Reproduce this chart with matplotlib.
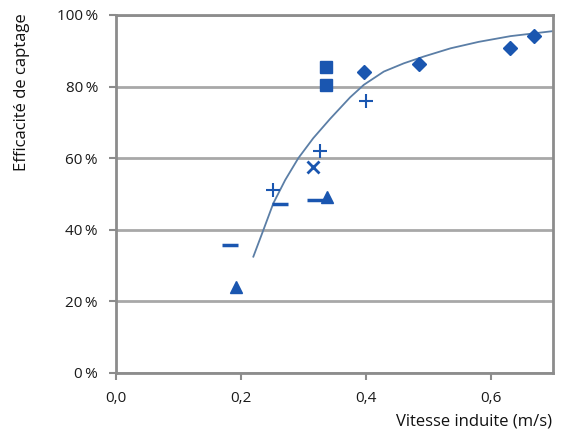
import matplotlib.pyplot as plt
from matplotlib.ticker import FuncFormatter

# measured points, grouped by marker type
diamond_x = [0.397, 0.486, 0.631, 0.670]
diamond_y = [0.840, 0.864, 0.907, 0.941]
square_x = [0.336, 0.336]
square_y = [0.856, 0.804]
plus_x = [0.251, 0.326, 0.401]
plus_y = [0.511, 0.621, 0.760]
minus_x = [0.183, 0.262, 0.319]
minus_y = [0.357, 0.471, 0.483]
triangle_x = [0.192, 0.338]
triangle_y = [0.241, 0.492]
cross_x = [0.316]
cross_y = [0.576]

# trend curve
curve_x = [0.220, 0.236, 0.252, 0.271, 0.292, 0.316, 0.343, 0.375, 0.397,
           0.429, 0.461, 0.493, 0.536, 0.581, 0.632, 0.700]
curve_y = [0.325, 0.399, 0.474, 0.539, 0.600, 0.656, 0.710, 0.770, 0.805,
           0.842, 0.865, 0.884, 0.907, 0.925, 0.941, 0.955]

x_ticks = [0.0, 0.2, 0.4, 0.6]
y_ticks = [0.0, 0.2, 0.4, 0.6, 0.8, 1.0]

blue = "#1a56b0"
plt.rcParams["font.family"] = ["Open Sans", "DejaVu Sans"]

fig = plt.figure(figsize=(5.64, 4.30), dpi=100)
ax = fig.add_axes([116 / 564, 1 - 373 / 430, 437 / 564, 358 / 430])

ax.plot(curve_x, curve_y, color="#5b7ea6", lw=1.3, zorder=2)
ax.plot(diamond_x, diamond_y, "D", color=blue, ms=7, zorder=3)
ax.plot(square_x, square_y, "s", color=blue, ms=9, zorder=3)
ax.plot(plus_x, plus_y, "+", color=blue, ms=10, mew=1.5, zorder=3)
ax.plot(minus_x, minus_y, "_", color=blue, ms=11, mew=2.5, zorder=3)
ax.plot(triangle_x, triangle_y, "^", color=blue, ms=9, zorder=3)
ax.plot(cross_x, cross_y, "x", color=blue, ms=8, mew=2, zorder=3)

ax.set_xlim(0, 0.7)
ax.set_ylim(0, 1.0)
ax.set_xticks(x_ticks)
ax.set_yticks(y_ticks)
ax.xaxis.set_major_formatter(FuncFormatter(lambda v, p: f"{v:.1f}".replace(".", ",")))
ax.yaxis.set_major_formatter(FuncFormatter(lambda v, p: f"{v * 100:.0f}\u2009%"))
ax.grid(axis="y", color="#a8a8a8", lw=2)
ax.set_axisbelow(True)
for s in ax.spines.values():
    s.set_color("#8c8c8c")
    s.set_linewidth(2)
ax.tick_params(axis="both", colors="#8c8c8c", width=1.5, length=5, labelsize=11,
               labelcolor="#1a1a1a", direction="out")
ax.tick_params(axis="x", pad=8)
ax.tick_params(axis="y", pad=8)

fig.text(552 / 564, 1 - 422 / 430, "Vitesse induite (m/s)", ha="right", va="center",
         fontsize=12, color="#111111")
fig.text(22 / 564, 1 - 92 / 430, "Efficacité de captage", rotation=90, ha="center",
         va="center", fontsize=12, color="#111111")

fig.savefig("out.png", dpi=100)
